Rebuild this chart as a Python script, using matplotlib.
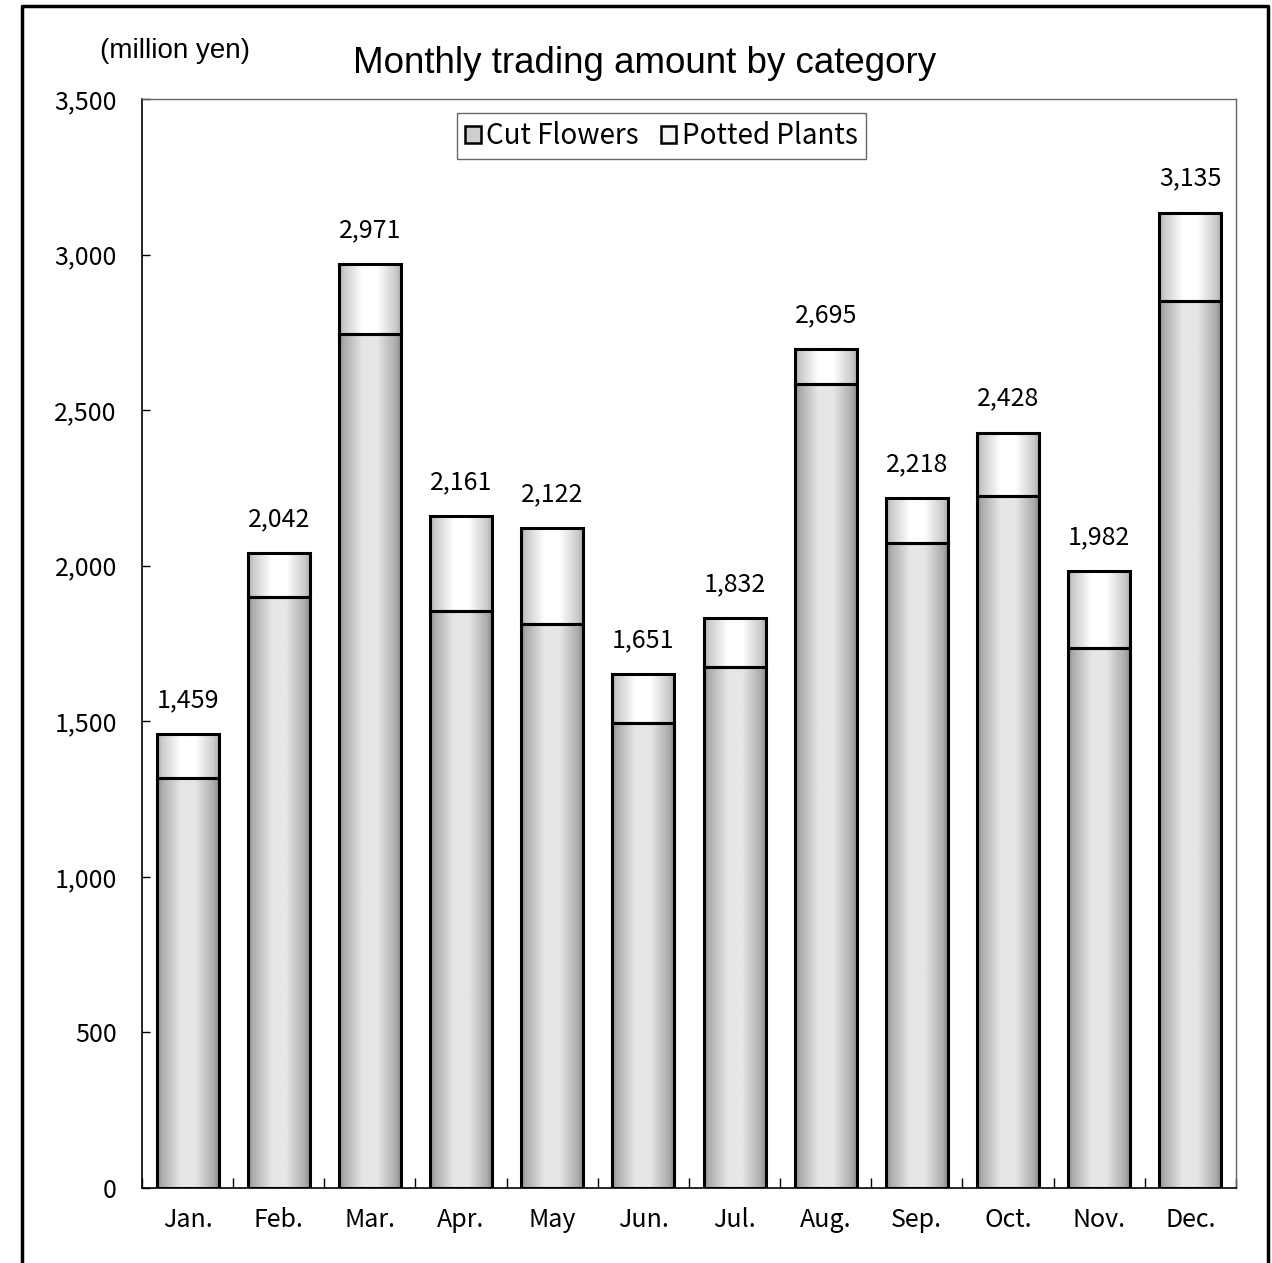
import matplotlib
matplotlib.use("Agg")
import matplotlib.pyplot as plt
import numpy as np
from matplotlib.lines import Line2D
from matplotlib.patches import Patch

months = ["Jan.", "Feb.", "Mar.", "Apr.", "May", "Jun.", "Jul.", "Aug.", "Sep.", "Oct.", "Nov.", "Dec."]
cut_flowers = [1317, 1899, 2744, 1854, 1812, 1494, 1674, 2584, 2073, 2224, 1735, 2850]
totals = [1459, 2042, 2971, 2161, 2122, 1651, 1832, 2695, 2218, 2428, 1982, 3135]
potted_plants = [t - c for t, c in zip(totals, cut_flowers)]
yticks = [0, 500, 1000, 1500, 2000, 2500, 3000, 3500]

num_font = ["Noto Sans CJK JP", "DejaVu Sans"]
title_font = ["Liberation Sans", "DejaVu Sans"]

fig = plt.figure(figsize=(12.72, 12.63), dpi=100)
ax = fig.add_axes([0.1116, 0.0594, 0.8601, 0.8622])

x = np.arange(len(months))
w = 0.68
b1 = ax.bar(x, cut_flowers, width=w, facecolor="none", edgecolor="black", linewidth=2.2, zorder=3)
b2 = ax.bar(x, potted_plants, width=w, bottom=cut_flowers, facecolor="none",
            edgecolor="black", linewidth=2.2, zorder=3)


def gradient(edge, center, n=200):
    t = np.linspace(0, 1, n)
    mid = edge + 0.35 * (center - edge)
    return np.interp(t, [0, 0.08, 0.38, 0.62, 0.92, 1], [edge, mid, center, center, mid, edge])


g_cut = gradient(0.55, 0.90)
g_pot = gradient(0.68, 1.0)
for bars, g in ((b1, g_cut), (b2, g_pot)):
    for p in bars:
        x0, y0 = p.get_x(), p.get_y()
        x1, y1 = x0 + p.get_width(), y0 + p.get_height()
        im = ax.imshow(g[np.newaxis, :], cmap="gray", vmin=0, vmax=1, aspect="auto",
                       extent=(x0, x1, y0, y1), zorder=2, interpolation="bilinear")
        im.set_clip_path(p)

ax.set_xlim(-0.5, len(months) - 0.5)
ax.set_ylim(0, 3500)

for xi, t in zip(x, totals):
    ax.annotate(f"{t:,}", (xi, t), xytext=(0, 15), textcoords="offset points",
                ha="center", va="bottom", fontsize=18, family=num_font)

ax.set_yticks(yticks)
ax.set_yticklabels([f"{v:,}" for v in yticks], family=num_font, fontsize=18)
ax.set_xticks(x)
ax.set_xticklabels(months, family=num_font, fontsize=18)
ax.set_xticks(np.arange(-0.5, len(months), 1), minor=True)
ax.tick_params(axis="x", which="major", length=0, pad=14)
ax.tick_params(axis="x", which="minor", direction="in", length=7, width=1)
ax.tick_params(axis="y", direction="in", length=6, width=1, pad=18)

for s in ("top", "right"):
    ax.spines[s].set_color("#666666")
    ax.spines[s].set_linewidth(1)
for s in ("left", "bottom"):
    ax.spines[s].set_color("black")
    ax.spines[s].set_linewidth(1.2)

handles = [Patch(facecolor="#cfcfcf", edgecolor="black", linewidth=1.8),
           Patch(facecolor="#f2f2f2", edgecolor="black", linewidth=1.8)]
leg = ax.legend(handles, ["Cut Flowers", "Potted Plants"], ncol=2, loc="center",
                bbox_to_anchor=(0.475, 0.966), prop={"family": num_font, "size": 20},
                handlelength=0.55, handleheight=0.55, handletextpad=0.2, columnspacing=0.8,
                fancybox=False, framealpha=1, edgecolor="#666666", borderpad=0.3,
                borderaxespad=0)
leg.get_frame().set_linewidth(1)

fig.text(0.507, 0.950, "Monthly trading amount by category", ha="center", va="center",
         fontsize=26.5, family=title_font)
fig.text(0.1376, 0.960, "(million yen)", ha="center", va="center", fontsize=20, family=title_font)

# outer frame (left, top, right)
fx0, fx1, fy = 22 / 1272, 1268 / 1272, 1 - 6 / 1263
fig.add_artist(Line2D([fx0, fx0, fx1, fx1], [0, fy, fy, 0], color="black", linewidth=2.5,
                      transform=fig.transFigure))

fig.savefig("out.png", dpi=100)
